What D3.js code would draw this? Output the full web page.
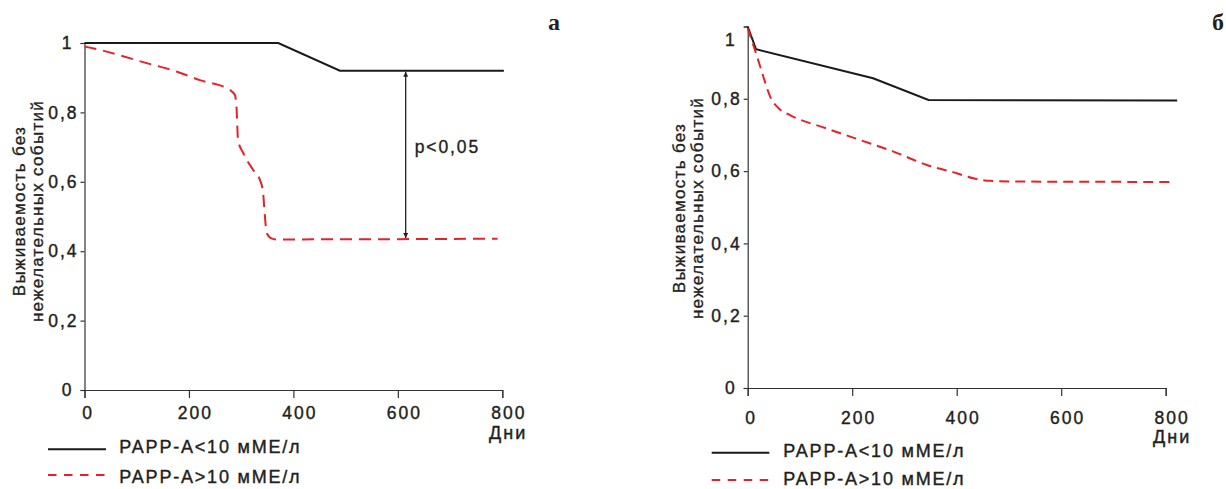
<!DOCTYPE html>
<html>
<head>
<meta charset="utf-8">
<style>
    body { margin: 0; background: #fff; }
    svg { display: block; font-family: "Liberation Sans", Arial, sans-serif; }
    .axis .domain, .axis .tick line { stroke: #333; stroke-width: 1.2; }
    .axis .tick text { font-size: 17.5px; fill: #231f20; letter-spacing: 2px; stroke: #231f20; stroke-width: 0.4px; }
    .ytitle { font-size: 17px; fill: #231f20; letter-spacing: 1.3px; stroke: #231f20; stroke-width: 0.35px; }
    .legend { font-size: 18px; fill: #231f20; letter-spacing: 1.8px; stroke: #231f20; stroke-width: 0.4px; }
    .unit { font-size: 18px; fill: #231f20; letter-spacing: 2px; stroke: #231f20; stroke-width: 0.4px; }
    .pval { font-size: 17.5px; fill: #231f20; letter-spacing: 1.9px; stroke: #231f20; stroke-width: 0.35px; }
    .panel-letter { font-family: "Liberation Serif", "DejaVu Serif", serif; font-weight: bold; font-size: 24px; fill: #231f20; }
</style>
</head>
<body>
<svg width="1226" height="489"></svg>

<script src="https://cdn.jsdelivr.net/npm/d3@7"></script>
<script>

    // axis ticks
    let xTicks = [0, 200, 400, 600, 800]
    let yTicks = [0, 0.2, 0.4, 0.6, 0.8, 1]

    let legendLabels = ["PAPP-A<10 мМЕ/л", "PAPP-A>10 мМЕ/л"]
    let yTitle = ["Выживаемость без", "нежелательных событий"]
    let xTitle = "Дни"

    // panel а
    let aLowDays = [0, 371, 489, 803]
    let aLowSurv = [1, 1, 0.92, 0.92]
    let aHighDays = [0, 30, 119, 176, 221, 278, 288, 291, 294, 304, 323, 336, 342, 345, 349, 358, 368, 791]
    let aHighSurv = [0.99, 0.98, 0.942, 0.918, 0.893, 0.865, 0.85, 0.816, 0.72, 0.683, 0.634, 0.605, 0.567, 0.509, 0.452, 0.437, 0.434, 0.436]

    // comparison arrow on panel а
    let arrowDay = 615
    let arrowFrom = 0.92
    let arrowTo = 0.435
    let pText = "p<0,05"

    // panel б
    let bLowDays = [0, 16, 240, 346, 822]
    let bLowSurv = [1, 0.937, 0.857, 0.797, 0.795]
    let bHighDays = [0, 17, 30, 43, 59, 81, 151, 215, 279, 343, 400, 432, 464, 527, 815]
    let bHighSurv = [0.995, 0.921, 0.861, 0.806, 0.774, 0.755, 0.718, 0.686, 0.654, 0.617, 0.594, 0.58, 0.573, 0.571, 0.57]

    let black = "#1a1a1a"
    let red = "#e8202a"

    let svg = d3.select("svg")

    svg.append("defs").append("marker")
        .attr("id", "head")
        .attr("viewBox", "0 0 10 10")
        .attr("refX", 10)
        .attr("refY", 5)
        .attr("markerWidth", 5)
        .attr("markerHeight", 7)
        .attr("markerUnits", "userSpaceOnUse")
        .attr("orient", "auto-start-reverse")
        .append("path")
        .attr("d", "M0,0 L10,5 L0,10 Z")
        .attr("fill", "#222")

    let fmt = d => (d === 0 || d === 1) ? String(d) : d3.format(".1f")(d).replace(".", ",")

    function zip(xs, ys) {
        return xs.map((d, i) => ({ day: d, s: ys[i] }))
    }

    function drawPanel(p) {
        let x = d3.scaleLinear().domain([0, 800]).range([p.x0, p.x1])
        let y = d3.scaleLinear().domain([0, 1]).range([p.y0, p.y1])

        let g = svg.append("g")

        // y axis
        g.append("g")
            .attr("class", "axis")
            .attr("transform", `translate(${p.x0},0)`)
            .call(d3.axisLeft(y).tickValues(yTicks).tickFormat(fmt).tickSize(4).tickPadding(2))
            .call(a => a.selectAll(".tick text")
                .filter(d => d === 0 || d === 1)
                .attr("dx", -5))
            .call(a => a.selectAll(".tick text")
                .filter(d => d === 1)
                .attr("y", p.oneShift))

        // x axis
        g.append("g")
            .attr("class", "axis")
            .attr("transform", `translate(0,${p.y0})`)
            .call(d3.axisBottom(x).tickValues(xTicks).tickSize(8).tickPadding(p.xPad))
            .call(a => a.selectAll(".tick text").attr("dx", d => d === 0 ? 3 : 6))

        g.append("text")
            .attr("class", "unit")
            .attr("x", p.unitX)
            .attr("y", p.unitY)
            .text(xTitle)

        // y title, two rotated lines
        yTitle.forEach((t, i) => {
            g.append("text")
                .attr("class", "ytitle")
                .attr("text-anchor", "middle")
                .attr("transform", `translate(${p.titleX[i]},${p.titleY}) rotate(-90)`)
                .text(t)
        })

        let lineLin = d3.line().x(d => x(d.day)).y(d => y(d.s))
        let lineSmooth = d3.line().curve(d3.curveMonotoneX).x(d => x(d.day)).y(d => y(d.s))

        g.append("path")
            .attr("d", lineLin(zip(p.lowDays, p.lowSurv)))
            .attr("fill", "none")
            .attr("stroke", black)
            .attr("stroke-width", 2)

        g.append("path")
            .attr("d", lineSmooth(zip(p.highDays, p.highSurv)))
            .attr("fill", "none")
            .attr("stroke", red)
            .attr("stroke-width", 2)
            .attr("stroke-dasharray", p.dash)

        // legend
        let legend = g.append("g")
        legendLabels.forEach((t, i) => {
            legend.append("line")
                .attr("x1", p.legX0).attr("x2", p.legX1)
                .attr("y1", p.legLineY[i]).attr("y2", p.legLineY[i])
                .attr("stroke", i === 0 ? black : red)
                .attr("stroke-width", 2)
                .attr("stroke-dasharray", i === 0 ? null : "8.5,7.5")
            legend.append("text")
                .attr("class", "legend")
                .attr("x", p.legTextX)
                .attr("y", p.legTextY[i])
                .text(t)
        })

        g.append("text")
            .attr("class", "panel-letter")
            .attr("text-anchor", "middle")
            .attr("x", p.letterX)
            .attr("y", 30)
            .text(p.letter)

        return { x: x, y: y, g: g }
    }

    let a = drawPanel({
        x0: 84.5, x1: 502.3, y0: 390, y1: 43, xPad: 9, oneShift: 0,
        unitX: 489, unitY: 439,
        titleX: [25, 43], titleY: 211,
        lowDays: aLowDays, lowSurv: aLowSurv, highDays: aHighDays, highSurv: aHighSurv,
        dash: "12,7",
        legX0: 48, legX1: 106, legLineY: [449.3, 475], legTextX: 119.3, legTextY: [453.3, 483.3],
        letterX: 554, letter: "а"
    })

    drawPanel({
        x0: 747.7, x1: 1165.7, y0: 388, y1: 26.5, xPad: 15.5, oneShift: 13.5,
        unitX: 1153, unitY: 443,
        titleX: [685, 703], titleY: 208,
        lowDays: bLowDays, lowSurv: bLowSurv, highDays: bHighDays, highSurv: bHighSurv,
        dash: "10,6",
        legX0: 711.7, legX1: 769.3, legLineY: [452.7, 480], legTextX: 783.3, legTextY: [457.3, 485],
        letterX: 1218, letter: "б"
    })

    // double arrow between the curves on panel а
    a.g.append("line")
        .attr("x1", a.x(arrowDay)).attr("x2", a.x(arrowDay))
        .attr("y1", a.y(arrowFrom) + 1).attr("y2", a.y(arrowTo) - 1)
        .attr("stroke", "#222")
        .attr("stroke-width", 1.3)
        .attr("marker-start", "url(#head)")
        .attr("marker-end", "url(#head)")

    a.g.append("text")
        .attr("class", "pval")
        .attr("x", a.x(arrowDay) + 9)
        .attr("y", 153)
        .text(pText)

</script>
</body>
</html>
